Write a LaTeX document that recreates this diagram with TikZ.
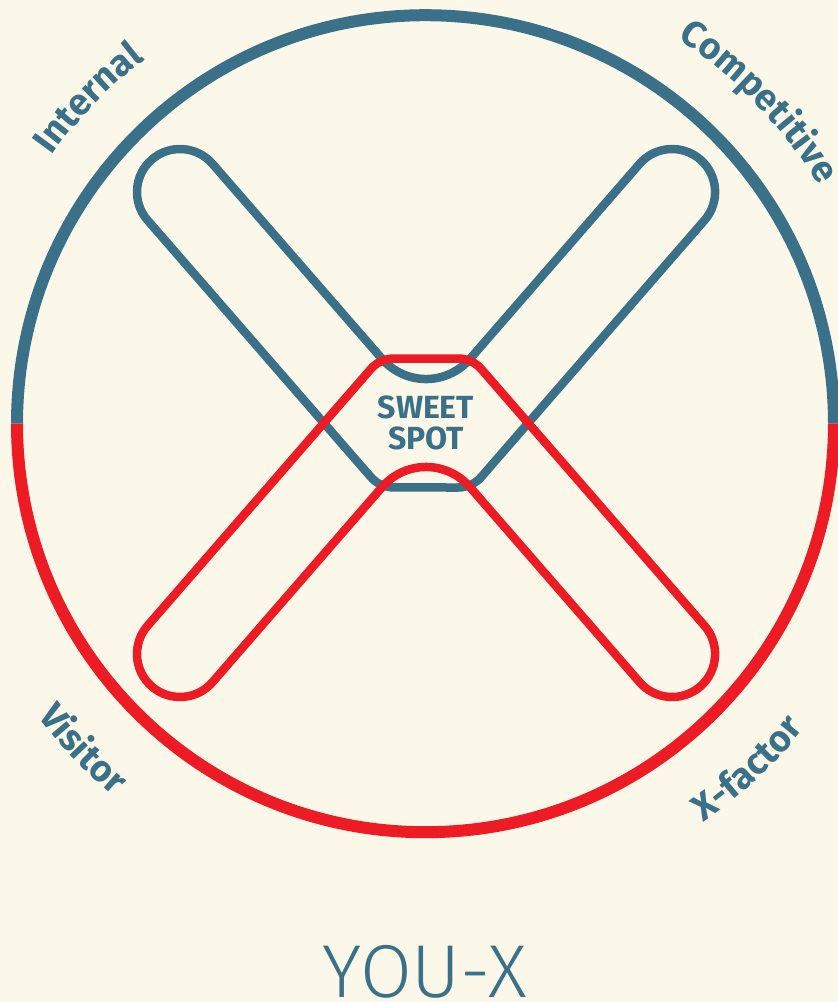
\documentclass[tikz,border=0pt]{standalone}
\usepackage{fontspec}
\setmainfont{Fira Sans}
\newfontfamily\youxfont{Fira Sans Light}
\usetikzlibrary{decorations.text}
\definecolor{xblue}{HTML}{3A7189}
\definecolor{xred}{HTML}{ED1C24}
\definecolor{xcream}{HTML}{FCF8E9}
\newcommand{\rimfont}{\bfseries\fontsize{37}{37}\selectfont}

\begin{document}
\begin{tikzpicture}[x=1pt, y=1pt,
  ring/.style={line width=12pt},
  arm/.style={line width=8.5pt, line join=round},
  sweet/.style={font=\bfseries\fontsize{32}{31}\selectfont, text=xblue, align=center, inner sep=0pt},
  youx/.style={font=\youxfont\fontsize{75}{75}\selectfont, text=xblue, inner sep=0pt, anchor=base},
  rimtext/.style={decorate, decoration={text along path, text align=center, text color=xblue}}
]
  \useasboundingbox (0,0) rectangle (838,-1002);
  \fill[xcream] (0,0) rectangle (838,-1002);

  % outer ring, top half blue, bottom half red
  \coordinate (c) at (425.5,-423.7);
  \draw[ring, xblue] (c) ++(180:408.5) arc[start angle=180, end angle=0, radius=408.5];
  \draw[ring, xred] (c) ++(180:408.5) arc[start angle=180, end angle=360, radius=408.5];

  % the two V loops, red one is the blue one flipped
  \foreach \col/\flip in {xblue/1, xred/-1} {
    \begin{scope}[yshift={(\flip-1)*423}, yscale=\flip]
      \draw[arm, \col] (212.45,-163.79) arc[start angle=41, end angle=221, radius=43]
        -- (370.7,-476.9) arc[start angle=-139, end angle=-90, radius=30.7]
        -- (458.1,-487.5) arc[start angle=-90, end angle=-41, radius=30.7]
        -- (704.55,-220.21) arc[start angle=-41, end angle=139, radius=43]
        -- (469.8,-359.1) arc[start angle=-41, end angle=-139, radius=58]
        -- cycle;
    \end{scope}
  }

  \node[sweet] (sweet) at (426,-423) {SWEET\\SPOT};

  % labels round the ring
  \path[rimtext, decoration={text={|\rimfont|Internal}}]
    (c) ++(176:460) arc[start angle=176, end angle=96, radius=460];
  \path[rimtext, decoration={text={|\rimfont|Competitive}}]
    (c) ++(84:460) arc[start angle=84, end angle=4, radius=460];
  \path[rimtext, decoration={text={|\rimfont|Visitor}}]
    (c) ++(183.5:486) arc[start angle=183.5, end angle=263.5, radius=486];
  \path[rimtext, decoration={text={|\rimfont|X-factor}}]
    (c) ++(273:486) arc[start angle=273, end angle=353, radius=486];

  \node[youx] (youx) at (425,-997) {YOU-X};
\end{tikzpicture}
\end{document}
